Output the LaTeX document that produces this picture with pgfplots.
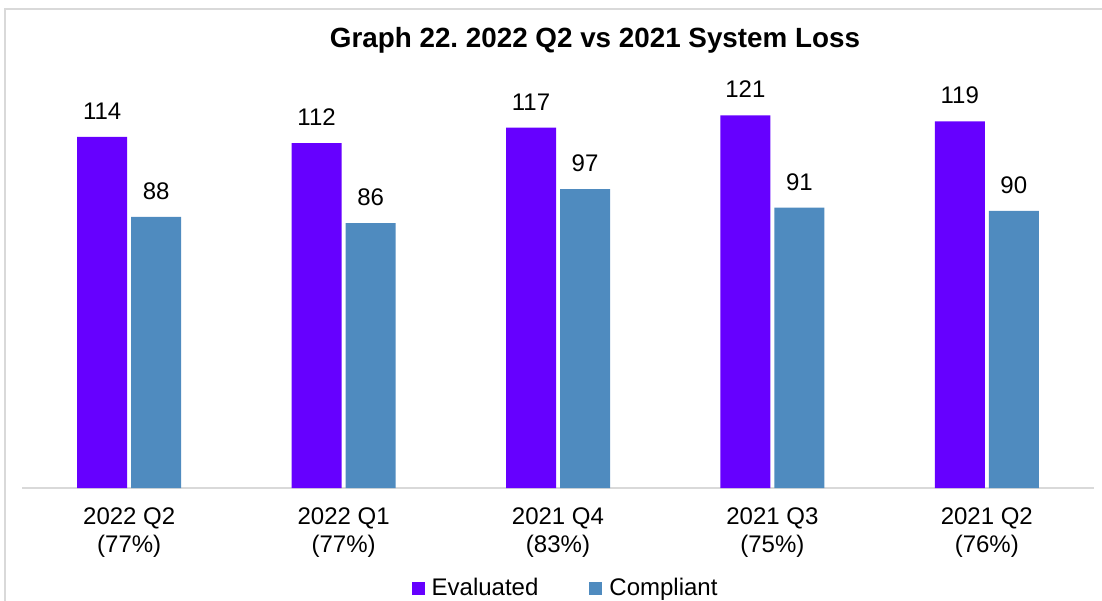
\documentclass[border=0pt]{standalone}
\usepackage{pgfplots}
\pgfplotsset{compat=1.18}
\usepackage{fontspec}
\setmainfont{Liberation Sans}
\definecolor{evalc}{HTML}{6600FF}
\definecolor{compc}{HTML}{4F8BBF}
\definecolor{framec}{HTML}{D9D9D9}
\begin{document}
\frenchspacing
\begin{tikzpicture}
\useasboundingbox (0,0) rectangle (551pt,300pt);
\draw[framec, line width=1pt] (2.5pt,-10pt) -- (2.5pt,295.25pt) -- (560pt,295.25pt);
\node[font=\bfseries\fontsize{13.9}{16}\selectfont] at (297.5pt,280pt) {Graph 22.\ 2022 Q2 vs 2021 System Loss};
\begin{axis}[
  at={(11pt,56pt)}, anchor=south west,
  scale only axis, width=536pt, height=215.6pt,
  xmin=-0.5, xmax=4.5, ymin=0, ymax=140,
  ybar=2pt, bar width=25pt,
  hide y axis,
  axis x line*=bottom,
  x axis line style={-, draw=framec, line width=0.9pt},
  xtick={0,1,2,3,4},
  xticklabels={{2022 Q2\\(77\%)},{2022 Q1\\(77\%)},{2021 Q4\\(83\%)},{2021 Q3\\(75\%)},{2021 Q2\\(76\%)}},
  xticklabel style={align=center, font=\fontsize{12}{14}\selectfont, yshift=-6.5pt},
  major tick length=0pt,
  /pgf/number format/assume math mode=true,
  nodes near coords,
  every node near coord/.append style={font=\fontsize{12}{14}\selectfont, black, anchor=south, inner sep=0pt, yshift=8.5pt},
  legend columns=2,
  legend style={at={(0.508,-0.232)}, anchor=center, draw=none, font=\fontsize{12}{14}\selectfont,
    /tikz/every even column/.append style={column sep=23.5pt}},
  legend image code/.code={\fill[#1] (0pt,-3.25pt) rectangle (6.5pt,3.25pt);},
  legend cell align=left,
]
\addplot[fill=evalc, draw=none] coordinates {(0,114) (1,112) (2,117) (3,121) (4,119)};
\addplot[fill=compc, draw=none] coordinates {(0,88) (1,86) (2,97) (3,91) (4,90)};
\legend{\hspace{1.5pt}Evaluated, \hspace{1.5pt}Compliant}
\end{axis}
\end{tikzpicture}
\end{document}
